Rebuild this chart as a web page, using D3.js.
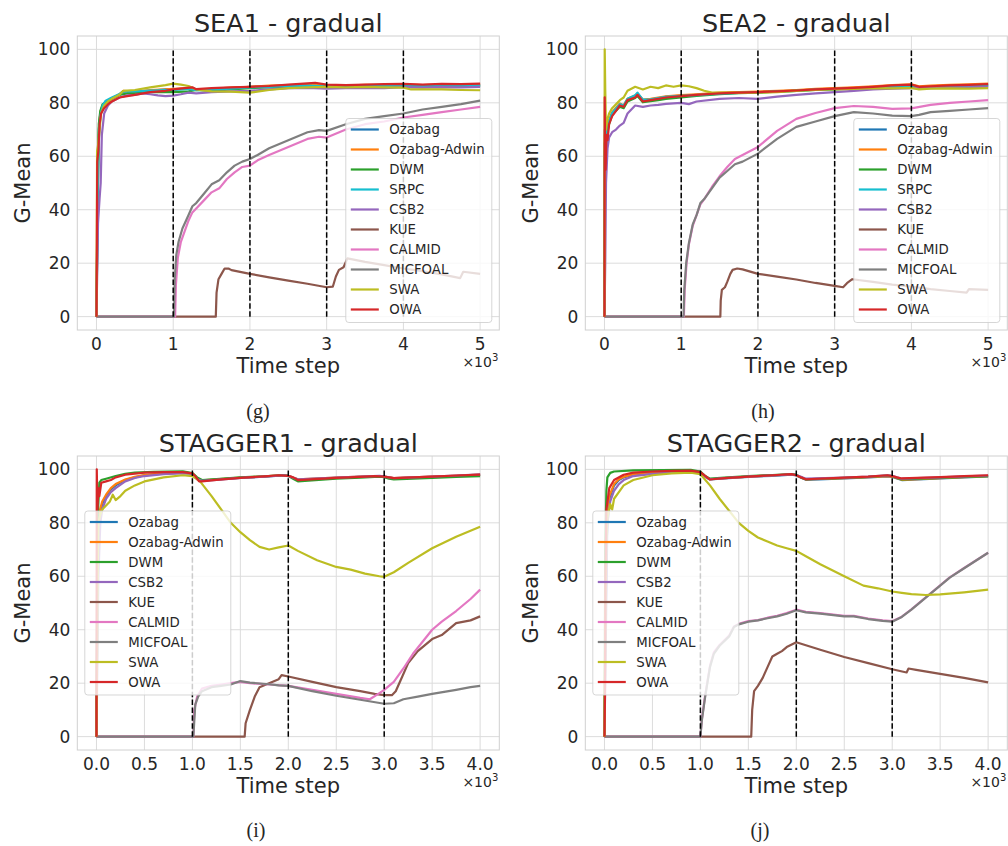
<!DOCTYPE html>
<html>
<head>
<meta charset="utf-8">
<script src="https://cdn.jsdelivr.net/npm/d3@7"></script>
<style>
  body { margin: 0; background: #fff; }
  text { font-family: "DejaVu Sans", sans-serif; fill: #262626; }
</style>
</head>
<body>
<script>
// ---- data ----
const seaMethods = ['Ozabag', 'Ozabag-Adwin', 'DWM', 'SRPC', 'CSB2', 'KUE', 'CALMID', 'MICFOAL', 'SWA', 'OWA']
const staggerMethods = ['Ozabag', 'Ozabag-Adwin', 'DWM', 'CSB2', 'KUE', 'CALMID', 'MICFOAL', 'SWA', 'OWA']
const seaTicks = [0, 1000, 2000, 3000, 4000, 5000]
const seaTickLabels = ['0', '1', '2', '3', '4', '5']
const staggerTicks = [0, 500, 1000, 1500, 2000, 2500, 3000, 3500, 4000]
const staggerTickLabels = ['0.0', '0.5', '1.0', '1.5', '2.0', '2.5', '3.0', '3.5', '4.0']
const yTicks = [0, 20, 40, 60, 80, 100]
const seaDrifts = [1000, 2000, 3000, 4000]
const staggerDrifts = [1000, 2000, 3000]

// SEA1
const sea1Ozabag = [[0,0],[15,45],[30,70],[50,76],[80,79],[120,80.5],[200,81.5],[300,83],[350,84.3],[500,84],[700,84.5],[900,85],[1000,85],[1200,85.3],[1300,84.8],[1500,85],[1750,85.5],[2000,86],[2250,86.2],[2500,86.5],[2750,86.6],[3000,86.3],[3250,86.3],[3500,86.5],[3750,86.3],[4000,86.7],[4250,86.4],[4500,86.6],[4750,86.5],[5000,86.6]]
const sea1Adwin = [[0,0],[15,42],[30,68],[50,76.5],[80,79],[120,80],[200,81.7],[300,83.2],[350,84.5],[500,84.2],[700,84.8],[900,85],[1000,85.2],[1200,85.5],[1300,85],[1500,85.2],[1750,85.7],[2000,86],[2250,86.4],[2500,86.6],[2750,86.8],[3000,86.5],[3250,86.4],[3500,86.7],[3750,86.6],[4000,86.9],[4250,86.6],[4500,86.8],[4750,86.7],[5000,86.9]]
const sea1DWM = [[0,0],[15,50],[30,72],[50,77],[80,79.5],[120,80],[200,81.5],[300,83],[400,83.5],[500,83.5],[700,84],[900,84],[1000,84],[1200,84.3],[1300,84.8],[1500,84.5],[1750,85],[2000,85.5],[2250,85.8],[2500,86],[2750,86.3],[3000,86],[3250,86],[3500,86.2],[3750,86],[4000,86.4],[4250,86.1],[4500,86.3],[4750,86.2],[5000,86.3]]
const sea1SRPC = [[0,0],[15,40],[30,66],[50,75],[80,79],[120,80.8],[200,82],[300,83.3],[350,84.3],[500,84.3],[700,84.6],[900,84.8],[1000,84.8],[1200,85.2],[1300,84.7],[1500,84.9],[1750,85.3],[2000,85.8],[2250,86],[2500,86.3],[2750,86.4],[3000,86.2],[3250,86.2],[3500,86.4],[3750,86.2],[4000,86.5],[4250,86.3],[4500,86.5],[4750,86.4],[5000,86.5]]
const sea1CSB2 = [[0,0],[20,35],[40,44],[55,50],[70,68],[100,76],[150,79],[200,80.5],[300,82],[400,82.8],[500,83],[600,83.5],[700,83.2],[800,82.8],[900,82.5],[1000,82.7],[1100,83.2],[1200,83.8],[1300,83.5],[1500,84],[1750,84.3],[2000,84.5],[2250,85],[2500,85.5],[2750,85.6],[3000,85.3],[3250,85.5],[3500,85.6],[3750,85.5],[4000,85.9],[4250,85.7],[4500,85.9],[4750,85.8],[5000,86]]
const sea1KUE = [[0,0],[1555,0],[1565,9],[1590,14],[1630,16],[1670,18],[1720,18],[1760,17.4],[2000,16],[2250,14.7],[2500,13.5],[2750,12.3],[3000,11],[3080,11.2],[3120,15],[3160,17.5],[3220,18.5],[3270,21.8],[3500,20.5],[3750,19.3],[4000,18],[4250,17],[4500,15.8],[4740,14.4],[4780,16.8],[5000,16]]
const sea1CALMID = [[0,0],[1025,0],[1035,12],[1060,22],[1100,28],[1150,32],[1200,36],[1250,39],[1300,40.5],[1400,43.5],[1500,46.5],[1600,48],[1700,51.5],[1800,54],[1900,56],[2000,56.5],[2100,58.5],[2250,60.5],[2500,63.5],[2750,66.5],[2900,67.3],[3000,67],[3250,70],[3500,72],[3750,73],[4000,74.5],[4250,75.5],[4500,76.5],[4750,77.5],[5000,78.5]]
const sea1MICFOAL = [[0,0],[1010,0],[1020,14],[1040,23],[1070,28],[1120,33],[1200,38],[1250,41.3],[1300,42.5],[1400,46],[1500,49.5],[1600,51],[1700,54],[1800,56.5],[1900,58],[2000,59],[2100,60.5],[2250,63],[2500,66],[2750,69],[2900,69.8],[3000,69.5],[3250,72],[3500,74],[3750,75],[4000,76],[4250,77.5],[4500,78.5],[4750,79.5],[5000,80.8]]
const sea1SWA = [[0,0],[8,62],[20,64],[40,70],[60,76],[100,79],[150,80.5],[200,81.5],[300,83],[350,84.5],[500,84.8],[700,85.8],[900,86.6],[1000,87.2],[1100,86.8],[1200,86.3],[1300,85],[1500,84.3],[1750,84.2],[2000,83.8],[2250,84.8],[2500,85.5],[2750,85.8],[3000,86],[3250,85.8],[3500,86],[3750,85.8],[4000,85.7],[4100,85],[4250,85],[4500,85],[4750,84.8],[5000,84.7]]
const sea1OWA = [[0,0],[10,58],[25,62],[40,72],[60,76],[100,78],[150,79.5],[200,80.5],[300,82],[400,82.5],[500,83],[700,84],[900,84.5],[1000,85],[1150,85.5],[1250,85.8],[1300,85.1],[1500,85.5],[1750,85.8],[2000,86],[2250,86.3],[2500,86.8],[2750,87.3],[2850,87.5],[3000,86.8],[3250,86.6],[3500,86.8],[3750,87],[4000,87.1],[4250,86.8],[4500,87.1],[4750,87],[5000,87.2]]

// SEA2
const sea2Ozabag = [[0,0],[5,70],[15,62],[30,70],[60,73],[100,76],[200,79.5],[250,78.8],[300,81.3],[400,82.5],[430,83.5],[500,81],[600,81.2],[700,81.7],[800,82.2],[1000,82.7],[1200,83],[1500,83.6],[1750,83.9],[2000,84],[2250,84.3],[2500,84.6],[2750,85],[3000,85.2],[3250,85.5],[3500,85.9],[3750,86.3],[4000,86.5],[4100,85.8],[4250,86],[4500,86.3],[4750,86.5],[5000,86.8]]
const sea2Adwin = [[0,0],[5,68],[15,60],[30,69],[60,73.5],[100,76.5],[200,79.8],[250,79],[300,81.5],[400,82.7],[430,83.3],[500,81.2],[600,81.5],[700,82],[800,82.4],[1000,82.9],[1200,83.2],[1500,83.8],[1750,84],[2000,84.2],[2250,84.5],[2500,84.8],[2750,85.2],[3000,85.5],[3250,85.8],[3500,86.2],[3750,86.6],[4000,86.9],[4100,86.2],[4250,86.4],[4500,86.7],[4750,86.9],[5000,87.2]]
const sea2DWM = [[0,0],[5,65],[15,58],[30,68],[60,72],[100,75.5],[200,78.5],[250,78],[300,80.5],[400,81.8],[430,82.5],[500,80.2],[600,80.6],[700,81],[800,81.5],[1000,82],[1200,82.6],[1500,83.2],[1750,83.6],[2000,83.8],[2250,84.2],[2500,84.5],[2750,84.8],[3000,85],[3250,85.3],[3500,85.6],[3750,85.9],[4000,86.1],[4100,85.6],[4250,85.8],[4500,86],[4750,86.2],[5000,86.4]]
const sea2SRPC = [[0,0],[5,62],[15,58],[30,70],[60,73],[100,76.2],[200,79.5],[250,79],[300,81.5],[400,82.8],[430,83.8],[500,81.2],[600,81.3],[700,81.8],[800,82.2],[1000,82.6],[1200,82.9],[1500,83.4],[1750,83.7],[2000,83.9],[2250,84.2],[2500,84.5],[2750,84.9],[3000,85.1],[3250,85.4],[3500,85.7],[3750,86],[4000,86.2],[4100,85.7],[4250,85.9],[4500,86.1],[4750,86.3],[5000,86.5]]
const sea2CSB2 = [[0,0],[10,20],[20,50],[40,63],[60,67],[100,69],[150,70],[200,71.5],[250,72.5],[300,76],[400,79],[500,78.5],[600,79],[700,79.2],[800,79.6],[900,79.8],[1000,80],[1100,79.5],[1200,80.5],[1500,81.5],[1750,81.8],[2000,81.5],[2250,82.3],[2500,83],[2750,83.5],[3000,84],[3250,84.5],[3500,85],[3750,85.3],[4000,85.5],[4250,85.5],[4500,85.7],[4750,85.8],[5000,86]]
const sea2KUE = [[0,0],[1510,0],[1515,6],[1530,10],[1570,11],[1600,13],[1640,16],[1670,17.5],[1730,18],[1800,17.7],[2000,16],[2250,15],[2500,13.9],[2750,12.6],[3000,11.5],[3110,11],[3160,12.5],[3230,14],[3500,13],[3750,12],[4000,11.2],[4250,10.3],[4500,9.6],[4720,9],[4750,10.3],[5000,10]]
const sea2CALMID = [[0,0],[1035,0],[1045,10],[1070,20],[1100,27],[1150,34],[1200,38],[1250,42],[1300,44],[1400,48.5],[1500,52.5],[1600,56],[1700,59],[1800,60.5],[1900,62],[2000,63.5],[2250,69.5],[2500,74],[2750,76.2],[3000,78],[3250,78.8],[3500,78.5],[3750,77.7],[4000,77.9],[4250,79.2],[4500,80],[4750,80.5],[5000,81]]
const sea2MICFOAL = [[0,0],[1030,0],[1040,10],[1065,20],[1100,27.5],[1150,34.5],[1200,38],[1250,42.5],[1300,44],[1400,48],[1500,52],[1600,54.5],[1700,57],[1800,58],[1900,59.5],[2000,61],[2250,66.5],[2500,71],[2750,73],[3000,75],[3250,76.5],[3500,76],[3750,75.2],[4000,75],[4100,75.5],[4250,76.5],[4500,77],[4750,77.5],[5000,78]]
const sea2SWA = [[0,0],[3,100],[10,85],[20,70],[40,74],[60,76],[100,78],[200,81],[250,82],[300,84.5],[400,86],[500,85],[600,86],[700,85.5],[800,86.5],[900,86],[1000,86.5],[1100,86.2],[1200,85.5],[1300,84.5],[1400,83.8],[1500,83.8],[1750,83.7],[2000,83.8],[2250,84],[2500,84.5],[2750,84.8],[3000,85],[3250,85.2],[3500,85.5],[3750,85.4],[4000,85.6],[4100,85],[4250,85.3],[4500,85.4],[4750,85.3],[5000,85.5]]
const sea2OWA = [[0,0],[3,82],[8,60],[15,55],[25,68],[40,66],[60,72],[100,75],[150,77],[200,79],[250,78.5],[300,81],[400,82],[430,83],[500,80.5],[600,81],[700,81.5],[800,82],[1000,82.5],[1200,83],[1500,83.5],[1750,83.8],[2000,84],[2250,84.3],[2500,84.6],[2750,85],[3000,85.3],[3250,85.6],[3500,86],[3750,86.5],[4000,86.8],[4100,86],[4250,86.2],[4500,86.5],[4750,86.7],[5000,87]]

// STAGGER1
const stg1Ozabag = [[0,0],[10,60],[30,82],[60,87],[100,90],[150,92.5],[200,94],[300,96],[400,97],[500,97.8],[700,98.4],[900,98.7],[1000,98.4],[1050,96.5],[1100,95.8],[1250,96.2],[1500,96.8],[1750,97.3],[1950,97.7],[2000,97.5],[2050,96.8],[2100,96.2],[2500,96.8],[2750,97.2],[2950,97.4],[3000,97.2],[3050,96.9],[3100,96.6],[3500,97.2],[3750,97.5],[4000,97.9]]
const stg1Adwin = [[0,0],[10,55],[30,84],[60,88],[100,90.5],[150,93],[200,94.5],[300,96.2],[400,97.2],[500,97.9],[700,98.5],[900,98.8],[1000,98.5],[1050,96.6],[1100,95.9],[1250,96.3],[1500,96.9],[1750,97.4],[1950,97.8],[2000,97.6],[2050,96.9],[2100,96.3],[2500,96.9],[2750,97.3],[2950,97.5],[3000,97.3],[3050,97],[3100,96.7],[3500,97.3],[3750,97.6],[4000,98]]
const stg1DWM = [[0,0],[10,80],[30,95],[50,96],[100,96.5],[200,97.5],[300,98.3],[400,98.8],[600,99.1],[900,99.3],[1000,98.6],[1050,97],[1100,96],[1250,96.4],[1500,97],[1750,97.4],[1950,97.9],[2000,97.6],[2050,96.5],[2100,95.5],[2500,96.5],[2750,96.9],[2950,97.3],[3000,97.1],[3050,96.5],[3100,96.2],[3500,96.8],[3750,97.2],[4000,97.5]]
const stg1CSB2 = [[0,0],[20,60],[40,80],[60,85],[100,89],[150,91.5],[200,93],[300,95.5],[400,96.8],[500,97.5],[700,98.2],[900,98.6],[1000,98.3],[1050,96.3],[1100,95.7],[1250,96.1],[1500,96.8],[1750,97.3],[1950,97.8],[2000,97.6],[2050,96.9],[2100,96.3],[2500,96.9],[2750,97.3],[2950,97.6],[3000,97.4],[3050,97],[3100,96.7],[3500,97.3],[3750,97.7],[4000,98.1]]
const stg1KUE = [[0,0],[1545,0],[1555,5],[1600,10],[1650,15],[1700,18.5],[1800,20],[1900,21.5],[1930,23],[2000,22.5],[2250,20.5],[2500,18.5],[2750,17],[2900,16],[3000,15.5],[3080,15.5],[3120,17],[3170,21],[3250,27.5],[3350,32],[3500,36.5],[3600,38],[3750,42.5],[3900,43.5],[4000,45]]
const stg1CALMID = [[0,0],[1010,0],[1020,10],[1050,15],[1100,18],[1200,19],[1300,19.5],[1400,20],[1500,20.5],[1600,20],[1800,19.5],[2000,19],[2250,17.5],[2500,16],[2750,14.5],[2850,14],[2950,16.3],[3000,17.5],[3100,20.5],[3200,25.5],[3300,31],[3400,35.5],[3500,40],[3600,43],[3750,47],[3900,51.5],[4000,55]]
const stg1MICFOAL = [[0,0],[1010,0],[1030,12],[1060,15],[1100,17],[1200,18.5],[1300,19],[1400,19.5],[1500,20.8],[1600,20.2],[1800,19.6],[1900,19.2],[2000,19],[2250,17],[2500,15.3],[2750,13.8],[3000,12.3],[3100,12.5],[3200,14],[3350,15],[3500,16],[3750,17.5],[3900,18.5],[4000,19]]
const stg1SWA = [[0,0],[10,50],[20,80],[40,83],[60,85],[100,86.5],[140,88],[170,90.5],[200,88.5],[250,90],[300,92],[400,94],[500,95.5],[700,97],[900,97.8],[1000,97.5],[1080,95.5],[1200,90],[1300,85],[1400,80],[1500,76.5],[1600,73.5],[1700,71],[1800,70],[1900,70.8],[2000,71.5],[2100,69.5],[2300,66],[2500,63.5],[2650,62.5],[2800,61],[2950,60],[3000,59.8],[3100,61.5],[3250,65],[3500,70.5],[3750,74.8],[4000,78.5]]
const stg1OWA = [[0,0],[3,100],[10,85],[20,93],[30,90],[50,95],[100,95.5],[150,96],[200,97],[300,98],[500,98.8],[700,99],[900,99],[1000,98.5],[1030,97.5],[1070,95.5],[1100,95.5],[1250,96.1],[1500,96.8],[1750,97.4],[1900,97.8],[2000,97.6],[2050,97],[2100,96],[2500,96.8],[2750,97.2],[2900,97.5],[3000,97.3],[3050,97],[3100,96.7],[3500,97.3],[3750,97.7],[4000,98]]

// STAGGER2
const stg2Ozabag = [[0,0],[10,40],[25,75],[50,89],[100,94],[150,96],[200,97],[300,98],[500,98.8],[700,99.2],[900,99.4],[1000,98.8],[1050,97.2],[1100,96.2],[1250,96.6],[1500,97.2],[1750,97.6],[1950,98],[2000,97.7],[2050,96.9],[2100,96.1],[2500,96.6],[2750,97],[2950,97.4],[3000,97.2],[3050,96.6],[3100,96],[3500,96.6],[3750,97],[4000,97.4]]
const stg2Adwin = [[0,0],[10,45],[25,78],[50,90],[100,94.5],[150,96.3],[200,97.2],[300,98.2],[500,98.9],[700,99.3],[900,99.4],[1000,98.9],[1050,97.3],[1100,96.3],[1250,96.7],[1500,97.3],[1750,97.7],[1950,98.1],[2000,97.8],[2050,97],[2100,96.2],[2500,96.7],[2750,97.1],[2950,97.5],[3000,97.3],[3050,96.7],[3100,96.1],[3500,96.7],[3750,97.1],[4000,97.5]]
const stg2DWM = [[0,0],[8,70],[20,92],[30,97],[60,98.7],[100,99.2],[300,99.6],[600,99.7],[900,99.8],[1000,99.2],[1050,97.5],[1100,96.5],[1250,96.9],[1500,97.5],[1750,97.9],[1950,98.2],[2000,98],[2050,97],[2100,96.3],[2500,96.8],[2750,97.2],[2950,97.7],[3000,97.5],[3050,96.8],[3100,96.2],[3500,96.8],[3750,97.2],[4000,97.5]]
const stg2CSB2 = [[0,0],[15,40],[30,80],[60,88],[100,92],[150,94.5],[200,96],[300,97.5],[500,98.3],[700,98.8],[900,99],[1000,98.7],[1050,97.2],[1100,96.3],[1250,96.7],[1500,97.3],[1750,97.7],[1950,98.1],[2000,97.9],[2050,97.2],[2100,96.5],[2500,96.9],[2750,97.3],[2950,97.8],[3000,97.6],[3050,97],[3100,96.5],[3500,97],[3750,97.4],[4000,97.7]]
const stg2KUE = [[0,0],[1530,0],[1540,10],[1560,17],[1600,19],[1650,22],[1700,26],[1750,30],[1800,31],[1850,32],[1900,33.5],[2000,35.3],[2250,32.5],[2500,29.8],[2750,27.5],[3000,25.2],[3150,24],[3170,25.5],[3250,25],[3500,23.5],[3750,22],[4000,20.3]]
const stg2CALMID = [[0,0],[1000,0],[1015,6.5],[1050,15.5],[1100,26.5],[1140,31.5],[1200,34.3],[1300,37.8],[1350,41.2],[1400,42.2],[1500,43.2],[1600,43.6],[1700,44.5],[1800,45.2],[1900,46.2],[2000,47.5],[2100,46.7],[2250,46.2],[2500,45.2],[2600,45.2],[2750,44.2],[2900,43.5],[3000,43.2],[3100,44.9],[3200,47.6],[3300,50.6],[3400,53.6],[3500,56.6],[3600,59.6],[3750,63.1],[4000,68.8]]
const stg2MICFOAL = [[0,0],[1000,0],[1015,6],[1050,15],[1100,26],[1140,31],[1200,34],[1300,37.5],[1350,41],[1400,42],[1500,43],[1600,43.5],[1700,44.3],[1800,45],[1900,46],[2000,47.3],[2100,46.5],[2250,46],[2500,45],[2600,45],[2750,44],[2900,43.3],[3000,43],[3100,44.8],[3200,47.5],[3300,50.5],[3400,53.5],[3500,56.5],[3600,59.5],[3750,63],[4000,68.8]]
const stg2SWA = [[0,0],[10,50],[20,75],[30,82],[60,87],[80,85],[100,89],[150,91.5],[200,94],[300,96],[500,97.8],[700,98.5],[900,98.8],[1000,98.2],[1100,94],[1200,89],[1300,84.5],[1400,80],[1500,77],[1600,74.5],[1700,73],[1800,71.5],[1900,70.5],[2000,69.5],[2100,67.5],[2250,64.5],[2500,60],[2700,56.5],[2850,55.5],[3000,54.3],[3100,53.8],[3200,53.3],[3350,53],[3500,53.2],[3750,54],[4000,55]]
const stg2OWA = [[0,0],[5,15],[10,60],[20,85],[50,93],[100,96],[200,98],[300,98.8],[500,99.2],[700,99.4],[900,99.5],[1000,99],[1070,97],[1100,96.2],[1250,96.7],[1500,97.3],[1750,97.8],[1950,98.2],[2000,97.8],[2050,97],[2100,96.3],[2500,96.9],[2750,97.3],[2950,97.8],[3000,97.5],[3050,97],[3100,96.6],[3500,97.1],[3750,97.5],[4000,97.8]]

// ---- styling ----
const colors = {
    'Ozabag': '#1f77b4', 'Ozabag-Adwin': '#ff7f0e', 'DWM': '#2ca02c', 'SRPC': '#17becf',
    'CSB2': '#9467bd', 'KUE': '#8c564b', 'CALMID': '#e377c2', 'MICFOAL': '#7f7f7f',
    'SWA': '#bcbd22', 'OWA': '#d62728'
}

const panels = [
    { title: 'SEA1 - gradual', tag: '(g)', left: 77.3, top: 36, xdom: [-250, 5250],
      ticks: seaTicks, tickLabels: seaTickLabels, drifts: seaDrifts, methods: seaMethods,
      series: [sea1Ozabag, sea1Adwin, sea1DWM, sea1SRPC, sea1CSB2, sea1KUE, sea1CALMID, sea1MICFOAL, sea1SWA, sea1OWA],
      legend: 'lower right', capX: 258, capY: 418 },
    { title: 'SEA2 - gradual', tag: '(h)', left: 585.3, top: 36, xdom: [-250, 5250],
      ticks: seaTicks, tickLabels: seaTickLabels, drifts: seaDrifts, methods: seaMethods,
      series: [sea2Ozabag, sea2Adwin, sea2DWM, sea2SRPC, sea2CSB2, sea2KUE, sea2CALMID, sea2MICFOAL, sea2SWA, sea2OWA],
      legend: 'lower right', capX: 763, capY: 418 },
    { title: 'STAGGER1 - gradual', tag: '(i)', left: 77.3, top: 456, xdom: [-200, 4200],
      ticks: staggerTicks, tickLabels: staggerTickLabels, drifts: staggerDrifts, methods: staggerMethods,
      series: [stg1Ozabag, stg1Adwin, stg1DWM, stg1CSB2, stg1KUE, stg1CALMID, stg1MICFOAL, stg1SWA, stg1OWA],
      legend: 'center left', capX: 256, capY: 837 },
    { title: 'STAGGER2 - gradual', tag: '(j)', left: 585.3, top: 456, xdom: [-200, 4200],
      ticks: staggerTicks, tickLabels: staggerTickLabels, drifts: staggerDrifts, methods: staggerMethods,
      series: [stg2Ozabag, stg2Adwin, stg2DWM, stg2CSB2, stg2KUE, stg2CALMID, stg2MICFOAL, stg2SWA, stg2OWA],
      legend: 'center left', capX: 760, capY: 837 }
]

const pw = 422, ph = 294

const svg = d3.select('body').append('svg')
    .attr('width', 1008)
    .attr('height', 846)

panels.forEach(function(p) {
    const x = d3.scaleLinear().domain(p.xdom).range([p.left, p.left + pw])
    const y = d3.scaleLinear().domain([-5, 105]).range([p.top + ph, p.top])
    const g = svg.append('g')

    // grid
    g.selectAll('.gx').data(p.ticks).enter().append('line')
        .attr('x1', d => x(d)).attr('x2', d => x(d))
        .attr('y1', p.top).attr('y2', p.top + ph)
        .attr('stroke', '#dcdcdc').attr('stroke-width', 1)
    g.selectAll('.gy').data(yTicks).enter().append('line')
        .attr('x1', p.left).attr('x2', p.left + pw)
        .attr('y1', d => y(d)).attr('y2', d => y(d))
        .attr('stroke', '#dcdcdc').attr('stroke-width', 1)
    g.append('rect')
        .attr('x', p.left).attr('y', p.top).attr('width', pw).attr('height', ph)
        .attr('fill', 'none').attr('stroke', '#d0d0d0').attr('stroke-width', 1)

    // tick labels
    g.selectAll('.tx').data(p.ticks).enter().append('text')
        .attr('x', d => x(d)).attr('y', p.top + ph + 20)
        .attr('text-anchor', 'middle').style('font-size', '17px')
        .text((d, i) => p.tickLabels[i])
    g.selectAll('.ty').data(yTicks).enter().append('text')
        .attr('x', p.left - 7).attr('y', d => y(d)).attr('dy', '0.35em')
        .attr('text-anchor', 'end').style('font-size', '17px')
        .text(d => d)

    // series
    const line = d3.line().x(d => x(d[0])).y(d => y(d[1]))
    p.series.forEach(function(s, i) {
        g.append('path')
            .attr('d', line(s))
            .attr('fill', 'none')
            .attr('stroke', colors[p.methods[i]])
            .attr('stroke-width', 2.2)
            .attr('stroke-linejoin', 'round')
    })

    // drift markers
    g.selectAll('.drift').data(p.drifts).enter().append('line')
        .attr('x1', d => x(d)).attr('x2', d => x(d))
        .attr('y1', y(0)).attr('y2', y(100))
        .attr('stroke', '#000').attr('stroke-width', 1.5)
        .attr('stroke-dasharray', '5.5,2.4')

    // labels
    g.append('text')
        .attr('x', p.left + pw / 2).attr('y', p.top - 4)
        .attr('text-anchor', 'middle').style('font-size', '25.5px')
        .text(p.title)
    g.append('text')
        .attr('x', p.left + pw / 2).attr('y', p.top + ph + 43)
        .attr('text-anchor', 'middle').style('font-size', '21px')
        .text('Time step')
    g.append('text')
        .attr('transform', `translate(${p.left - 47},${p.top + ph / 2}) rotate(-90)`)
        .attr('text-anchor', 'middle').style('font-size', '21px')
        .text('G-Mean')
    const mult = g.append('text')
        .attr('x', p.left + pw - 1).attr('y', p.top + ph + 37)
        .attr('text-anchor', 'end').style('font-size', '14px')
    mult.append('tspan').text('×10')
    mult.append('tspan').attr('dy', -6).style('font-size', '10px').text('3')

    g.append('text')
        .attr('x', p.capX).attr('y', p.capY)
        .attr('text-anchor', 'middle')
        .style('font-family', '"Liberation Serif", serif').style('font-size', '20px')
        .text(p.tag)

    // legend
    const n = p.methods.length
    const lw = 146, lh = n * 20 + 4
    let lx, ly
    if (p.legend === 'lower right') {
        lx = p.left + pw - 7.5 - lw
        ly = p.top + ph - 7.5 - lh
    } else {
        lx = p.left + 7.5
        ly = p.top + ph / 2 - lh / 2
    }
    const lg = g.append('g')
    lg.append('rect')
        .attr('x', lx).attr('y', ly).attr('width', lw).attr('height', lh)
        .attr('rx', 3)
        .attr('fill', '#fff').attr('fill-opacity', 0.8)
        .attr('stroke', '#cccccc').attr('stroke-opacity', 0.8)
    p.methods.forEach(function(m, i) {
        const cy = ly + 11 + i * 20
        lg.append('line')
            .attr('x1', lx + 5).attr('x2', lx + 33)
            .attr('y1', cy).attr('y2', cy)
            .attr('stroke', colors[m]).attr('stroke-width', 2.2)
        lg.append('text')
            .attr('x', lx + 43.5).attr('y', cy).attr('dy', '0.36em')
            .style('font-size', '13.3px')
            .text(m)
    })
})
</script>
</body>
</html>
